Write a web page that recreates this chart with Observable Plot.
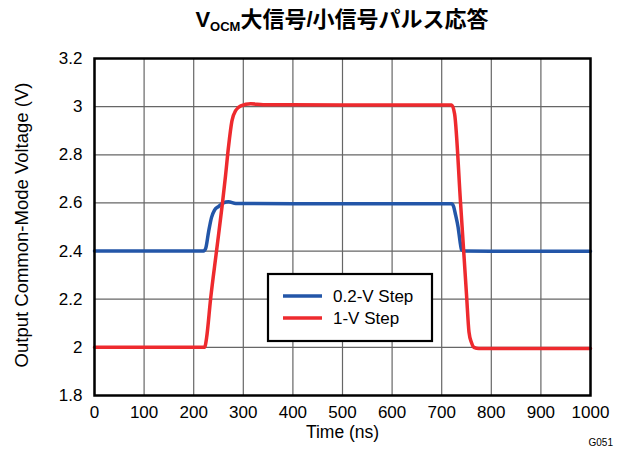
<!DOCTYPE html>
<html>
<head>
<meta charset="utf-8">
<script src="https://cdn.jsdelivr.net/npm/d3@7"></script>
<script src="https://cdn.jsdelivr.net/npm/@observablehq/plot@0.6"></script>
<style>
  html, body { margin: 0; padding: 0; background: #fff; }
  #chart { width: 625px; height: 450px; }
</style>
</head>
<body>
<div id="chart"></div>
<script>
// ---- data ----
const xTicks = [0, 100, 200, 300, 400, 500, 600, 700, 800, 900, 1000];
const yTicks = [1.8, 2, 2.2, 2.4, 2.6, 2.8, 3, 3.2];

const seriesNames = ["0.2-V Step", "1-V Step"];

const timeBlue = [0, 220, 224, 230, 236, 242, 250, 260, 270, 285, 400, 600, 720, 724, 728, 733, 737, 740, 745, 800, 1000];
const voltBlue = [2.4, 2.4, 2.41, 2.48, 2.54, 2.57, 2.585, 2.6, 2.605, 2.598, 2.597, 2.597, 2.597, 2.585, 2.55, 2.5, 2.44, 2.405, 2.4, 2.399, 2.399];

const timeRed = [0, 222, 226, 234, 246, 258, 264, 270, 277, 285, 295, 315, 340, 500, 720, 726, 738, 750, 755, 760, 765, 775, 800, 1000];
const voltRed = [2.0, 2.0, 2.04, 2.2, 2.4, 2.6, 2.71, 2.83, 2.94, 2.985, 3.003, 3.012, 3.008, 3.007, 3.007, 2.97, 2.6, 2.22, 2.064, 2.02, 2.0, 1.995, 1.995, 1.995];

const titleMain = "V";
const titleSub = "OCM";
const titleRest = "大信号/小信号パルス応答";
const xLabel = "Time (ns)";
const yLabel = "Output Common-Mode Voltage (V)";
const figId = "G051";

// ---- build tables ----
const blue = timeBlue.map((t, i) => ({t, v: voltBlue[i]}));
const red = timeRed.map((t, i) => ({t, v: voltRed[i]}));

const BLUE = "#2356a8";
const RED = "#ee2a2e";
const W = 625, H = 450, ML = 94, MR = 35, MT = 58, MB = 55;
const font = "'Liberation Sans', Arial, 'Noto Sans CJK JP', sans-serif";

const chart = Plot.plot({
  width: W, height: H,
  marginLeft: ML, marginRight: MR, marginTop: MT, marginBottom: MB,
  style: {fontFamily: font, fontSize: "17px", color: "#000", background: "#fff"},
  x: {domain: [0, 1000]},
  y: {domain: [1.8, 3.2]},
  marks: [
    Plot.gridX(xTicks, {stroke: "#666", strokeOpacity: 1, strokeWidth: 1.2}),
    Plot.gridY(yTicks, {stroke: "#666", strokeOpacity: 1, strokeWidth: 1.2}),
    Plot.axisX(xTicks, {tickSize: 0, tickPadding: 10, label: null, fontSize: 17, tickFormat: d => String(d)}),
    Plot.axisY(yTicks, {tickSize: 0, tickPadding: 12, label: null, fontSize: 17, tickFormat: d => String(d)}),
    Plot.line(blue, {x: "t", y: "v", stroke: BLUE, strokeWidth: 3.5, curve: "monotone-x"}),
    Plot.line(red, {x: "t", y: "v", stroke: RED, strokeWidth: 3.5, curve: "monotone-x"}),
    Plot.frame({stroke: "#000", strokeWidth: 2.5}),
    Plot.text([xLabel], {frameAnchor: "bottom", dy: 42, fontSize: 17.5, fill: "#000"}),
    Plot.text([yLabel], {frameAnchor: "left", dx: -72, dy: -2, rotate: -90, textAnchor: "middle", fontSize: 18.5, fill: "#000"})
  ]
});

document.getElementById("chart").appendChild(chart);

const svg = d3.select(chart);
const cx = (ML + W - MR) / 2;

// title
const title = svg.append("text")
  .attr("x", cx).attr("y", 27)
  .attr("text-anchor", "middle")
  .attr("font-family", "'Liberation Sans', 'Noto Sans CJK JP', sans-serif")
  .attr("font-size", 22).attr("font-weight", "bold").attr("fill", "#000");
title.append("tspan").text(titleMain);
title.append("tspan").attr("font-size", 13).attr("dy", 4).text(titleSub);
title.append("tspan").attr("dy", -4).text(titleRest);

// figure id
svg.append("text").attr("x", 613).attr("y", 446).attr("text-anchor", "end")
  .attr("font-family", font).attr("font-size", 10).attr("fill", "#000").text(figId);

// legend (placed in pixel space inside the frame)
const lg = svg.append("g").attr("transform", "translate(268,274)");
lg.append("rect").attr("width", 164).attr("height", 67)
  .attr("fill", "#fff").attr("stroke", "#000").attr("stroke-width", 2.2);
[[BLUE, seriesNames[0], 22], [RED, seriesNames[1], 44]].forEach(([c, name, y]) => {
  lg.append("line").attr("x1", 15).attr("x2", 54).attr("y1", y).attr("y2", y)
    .attr("stroke", c).attr("stroke-width", 3.5);
  lg.append("text").attr("x", 65).attr("y", y + 6)
    .attr("text-anchor", "start")
    .attr("font-family", font).attr("font-size", 17).attr("fill", "#000").text(name);
});
</script>
</body>
</html>
